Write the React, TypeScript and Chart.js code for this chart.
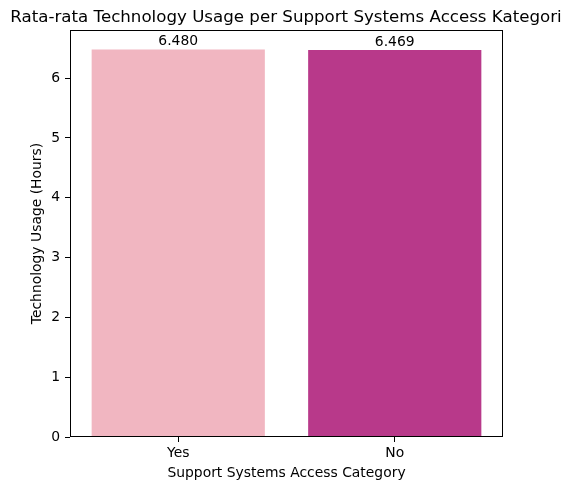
import React, { useEffect, useRef } from 'react';
import { Chart, registerables } from 'chart.js';

Chart.register(...registerables);

const titleText = 'Rata-rata Technology Usage per Support Systems Access Kategori';
const xTitle = 'Support Systems Access Category';
const yTitle = 'Technology Usage (Hours)';
const categories = ['Yes', 'No'];
const values = [6.48, 6.469];
const yTicks = [0, 1, 2, 3, 4, 5, 6];
const yMax = 6.804;
const barColors = ['#f1b6c1', '#b8398a'];

const FONT = 'DejaVu Sans';

const framePlugin = {
  id: 'frame',
  afterDraw(chart: any) {
    const { ctx, chartArea } = chart;
    const { left, right, top, bottom } = chartArea;
    ctx.save();
    ctx.strokeStyle = '#000';
    ctx.lineWidth = 1;
    ctx.strokeRect(left + 0.5, top + 0.5, right - left - 1, bottom - top - 1);
    const meta = chart.getDatasetMeta(0);
    ctx.fillStyle = '#000';
    ctx.font = `13.9px "${FONT}"`;
    ctx.textAlign = 'center';
    ctx.textBaseline = 'alphabetic';
    meta.data.forEach((bar: any, i: number) => {
      ctx.fillText(values[i].toFixed(3), bar.x, bar.y - 4.2);
    });
    ctx.restore();
  },
};

export default function App() {
  const ref = useRef<HTMLCanvasElement>(null);

  useEffect(() => {
    document.body.style.margin = '0';
    const canvas = ref.current;
    if (!canvas) return;
    Chart.defaults.font.family = FONT;
    Chart.defaults.color = '#000';
    const chart = new Chart(canvas, {
      type: 'bar',
      data: {
        labels: categories,
        datasets: [
          {
            data: values,
            backgroundColor: barColors,
            borderWidth: 0,
            barPercentage: 0.8,
            categoryPercentage: 1.0,
          },
        ],
      },
      options: {
        responsive: false,
        animation: false,
        devicePixelRatio: 1,
        layout: { padding: { left: 0, right: 0, top: 0, bottom: 0 } },
        plugins: {
          legend: { display: false },
          tooltip: { enabled: false },
          title: {
            display: true,
            text: titleText,
            color: '#000',
            font: { family: FONT, size: 16.67, weight: 'normal', lineHeight: 1.2 },
            padding: { top: 8, bottom: 2 },
          },
        },
        scales: {
          x: {
            offset: true,
            grid: {
              display: true,
              offset: false,
              drawOnChartArea: false,
              drawTicks: true,
              tickLength: 5,
              tickColor: '#000',
              tickWidth: 1,
              color: '#000',
            },
            border: { display: false },
            ticks: {
              color: '#000',
              font: { family: FONT, size: 13.9 },
              padding: 3,
              maxRotation: 0,
            },
            title: {
              display: true,
              text: xTitle,
              color: '#000',
              font: { family: FONT, size: 13.9, lineHeight: 1.2 },
              padding: { top: 0, bottom: 8 },
            },
            afterFit: (s: any) => {
              s.height = 53;
            },
          },
          y: {
            position: 'left',
            min: 0,
            max: yMax,
            afterBuildTicks: (s: any) => {
              s.ticks = yTicks.map((v) => ({ value: v }));
            },
            grid: {
              display: true,
              drawOnChartArea: false,
              drawTicks: true,
              tickLength: 5,
              tickColor: '#000',
              tickWidth: 1,
              color: '#000',
            },
            border: { display: false },
            ticks: {
              color: '#000',
              font: { family: FONT, size: 13.9 },
              padding: 5,
            },
            title: {
              display: true,
              text: yTitle,
              color: '#000',
              font: { family: FONT, size: 13.9, lineHeight: 1.2 },
              padding: { top: 29.2, bottom: 0 },
            },
            afterFit: (s: any) => {
              s.width = 70;
            },
          },
          yRight: {
            type: 'linear',
            position: 'right',
            display: true,
            grid: { display: false, drawTicks: false },
            border: { display: false },
            ticks: { display: false },
            title: { display: false },
            afterFit: (s: any) => {
              s.width = 69;
            },
          },
        },
      } as any,
      plugins: [framePlugin],
    });
    return () => chart.destroy();
  }, []);

  return (
    <div style={{ width: 572, height: 490 }}>
      <canvas ref={ref} width={572} height={490} style={{ display: 'block' }} />
    </div>
  );
}
